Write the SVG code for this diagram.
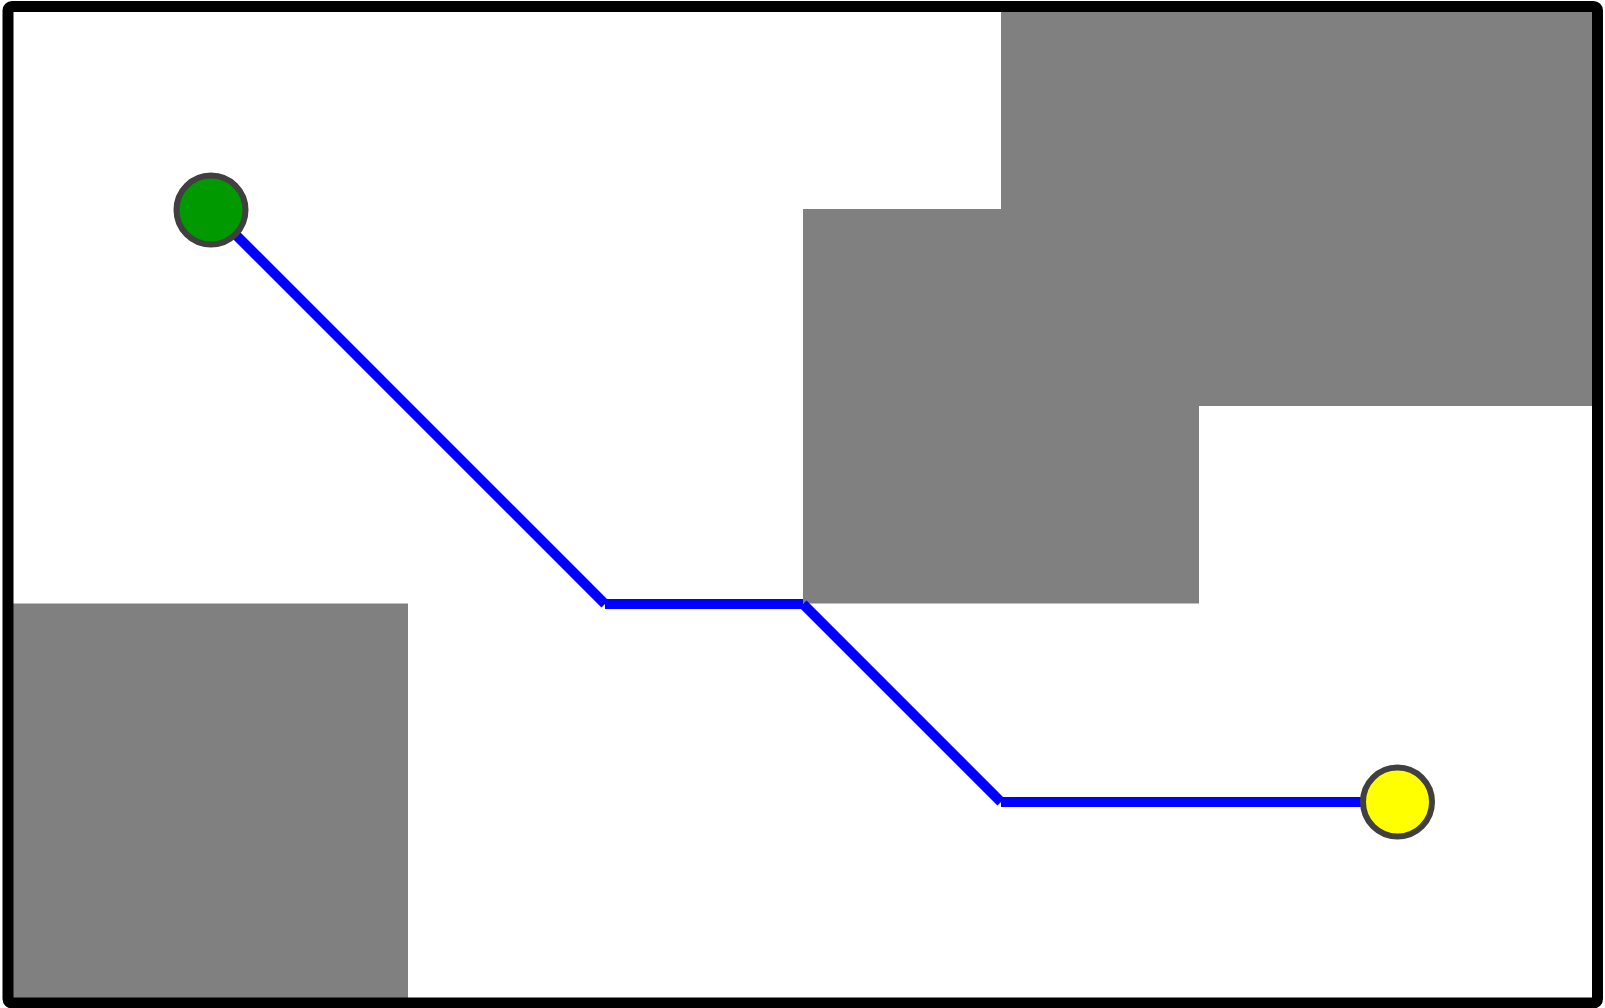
<svg xmlns="http://www.w3.org/2000/svg" width="1605" height="1008" viewBox="0 0 1605 1008">
<style>
.obs{fill:#808080;stroke:none}
.seg{stroke:#0000ff;stroke-width:10;stroke-linecap:butt;fill:none}
.node{stroke:#404040;stroke-width:6}
</style>
<rect x="0" y="0" width="1605" height="1008" fill="#ffffff"/>
<g id="obstacles">
<rect class="obs" x="1001" y="11" width="593" height="395"/>
<rect class="obs" x="803" y="209" width="396" height="394.5"/>
<rect class="obs" x="12" y="603.5" width="396" height="395"/>
</g>
<g id="connectors">
<line class="seg" x1="210" y1="209" x2="605" y2="604"/>
<line class="seg" x1="605" y1="604" x2="803" y2="604"/>
<line class="seg" x1="803" y1="604" x2="1001" y2="802"/>
<line class="seg" x1="1001" y1="802" x2="1397" y2="802"/>
</g>
<g id="start">
<circle class="node" cx="211" cy="210" r="34.5" fill="#009900"/>
</g>
<g id="goal">
<circle class="node" cx="1397.5" cy="802" r="34.5" fill="#ffff00"/>
</g>
<rect id="border" x="8" y="6.5" width="1589.5" height="996.5" rx="4" fill="none" stroke="#000000" stroke-width="11"/>
</svg>
